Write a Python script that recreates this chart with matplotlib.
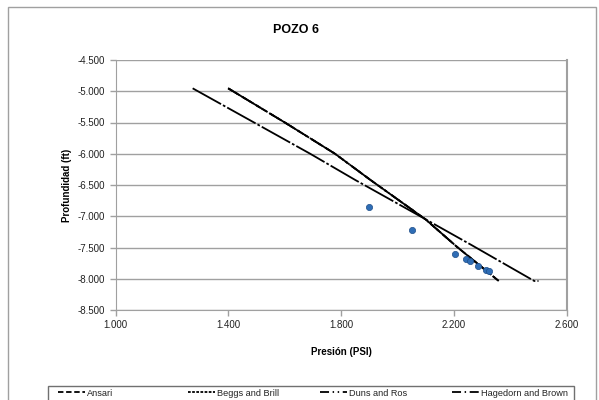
import matplotlib
matplotlib.use("Agg")
import matplotlib.pyplot as plt
from matplotlib.ticker import FuncFormatter
from matplotlib.patches import Rectangle
from matplotlib.lines import Line2D

plt.rcParams['font.family'] = ['Liberation Sans', 'DejaVu Sans']

# measured points (PSI, ft)
obs_pres = [1898, 2051, 2203, 2242, 2256, 2285, 2313, 2324]
obs_depth = [-6852, -7220, -7604, -7684, -7716, -7796, -7860, -7876]

# correlations (Ansari, Beggs and Brill, Duns and Ros overlap)
corr_pres = [1399, 1600, 1778, 1904, 2099, 2210, 2359]
corr_depth = [-4953, -5500, -6000, -6420, -7049, -7487, -8036]

# Hagedorn and Brown
hb_pres = [1273, 1690, 1850, 2100, 2262, 2485, 2500]
hb_depth = [-4953, -6000, -6420, -7050, -7460, -8036, -8036]

names = ['Ansari', 'Beggs and Brill', 'Duns and Ros', 'Hagedorn and Brown']
x_ticks = [1000, 1400, 1800, 2200, 2600]
y_ticks = [-8500, -8000, -7500, -7000, -6500, -6000, -5500, -5000, -4500]

fig = plt.figure(figsize=(5.99, 4.0), dpi=100)
fig.patches.append(Rectangle((8/599, -0.02), 588/599, 1.02 - 7/400,
                             transform=fig.transFigure, fill=False,
                             edgecolor='#a0a0a0', lw=1.0))
ax = fig.add_axes([115.7/599, 1 - 310/400, 451/599, 250/400])

grey = '#a0a0a0'
ax.plot(corr_pres, corr_depth, color='black', lw=1.3, dashes=(6, 3))
ax.plot(corr_pres, corr_depth, color='black', lw=1.3, dashes=(3, 1.5))
ax.plot(corr_pres, corr_depth, color='black', lw=1.3, dashes=(20, 1.5, 1, 1.5, 1, 1.5))
ax.plot(hb_pres, hb_depth, color='black', lw=1.3, dashes=(18, 1.2, 1.5, 1.2))
ax.plot(obs_pres, obs_depth, 'o', color='#2f6db5', mec='#1f4f8a', mew=0.5, ms=4.5)

ax.set_xlim(1000, 2600)
ax.set_ylim(-8500, -4500)
ax.set_xticks(x_ticks)
ax.set_yticks(y_ticks)
fmt = FuncFormatter(lambda v, p: '{:,.0f}'.format(v).replace(',', '.'))
ax.xaxis.set_major_formatter(fmt)
ax.yaxis.set_major_formatter(fmt)
ax.grid(axis='y', color=grey, lw=1.0)
ax.set_axisbelow(True)
for s in ['left', 'bottom', 'right']:
    ax.spines[s].set_color(grey)
ax.spines['right'].set_linewidth(1.5)
ax.spines['top'].set_visible(False)
ax.tick_params(colors=grey, labelcolor='#222222', labelsize=7, length=4, width=1)

fig.text(296/599, 1 - 30/400, 'POZO 6', fontsize=9, fontweight='bold',
         ha='center', va='center')
ax.set_xlabel('Presión (PSI)', fontsize=7, fontweight='bold', labelpad=12)
ax.set_ylabel('Profundidad (ft)', fontsize=7, fontweight='bold', labelpad=4)

# legend: frame plus one entry per column
fig.patches.append(Rectangle((48/599, -0.02), 526/599, 0.02 + 14/400,
                             transform=fig.transFigure, fill=False,
                             edgecolor='#707070', lw=1.0))
leg_dashes = [(3, 1.5), (1.5, 0.8), (5, 2, 0.8, 2, 0.8, 2), (5, 2, 0.8, 2)]
leg_x = [58, 188, 320, 452]
for name, d, x in zip(names, leg_dashes, leg_x):
    h = Line2D([], [], color='black', lw=1.3, dashes=d)
    lg = fig.legend(handles=[h], labels=[name], loc='center left',
                    bbox_to_anchor=(x/599, 1 - 393/400), frameon=False,
                    fontsize=6.6, handlelength=2.9, handletextpad=0.25,
                    borderpad=0, borderaxespad=0)
    for t in lg.get_texts():
        t.set_color('#222222')

fig.savefig('out.png', dpi=100)
